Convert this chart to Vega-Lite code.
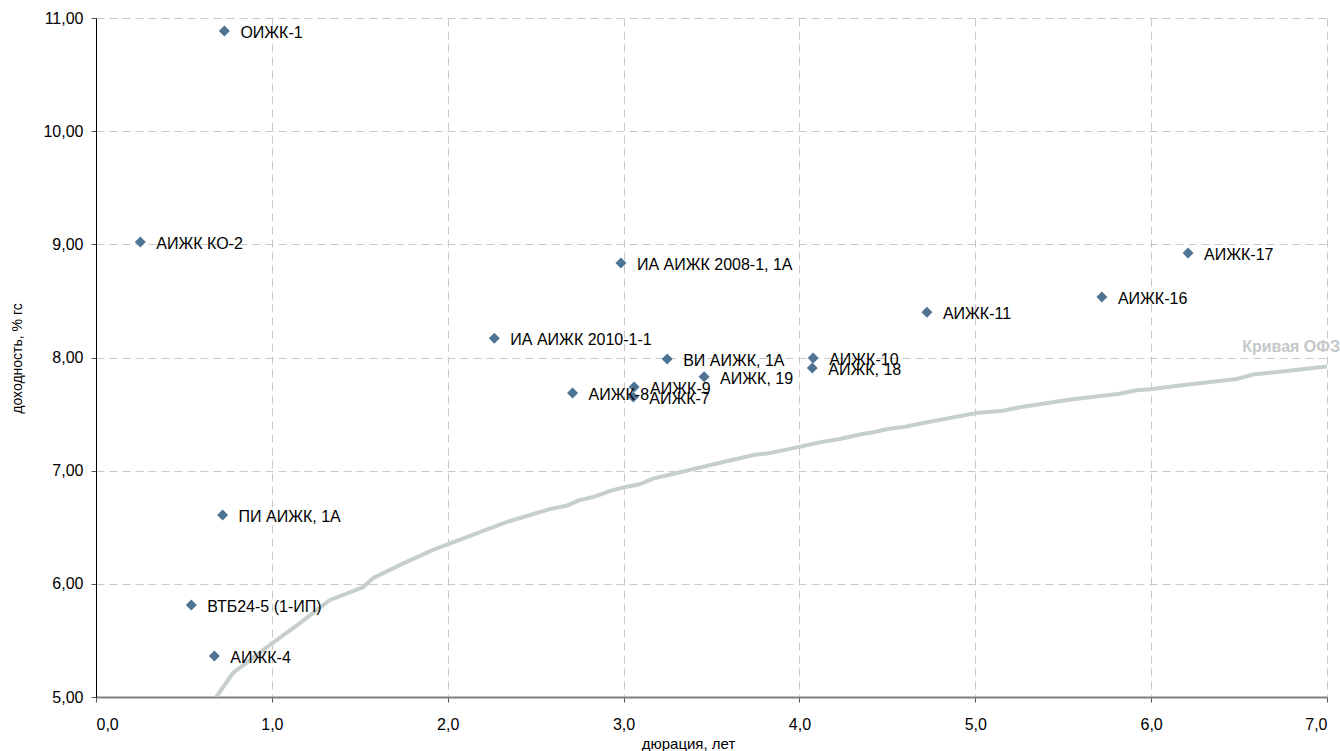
{
  "$schema": "https://vega.github.io/schema/vega-lite/v6.json",
  "width": 1231,
  "height": 679,
  "autosize": {"type": "none"},
  "padding": {"left": 96, "top": 18, "right": 13, "bottom": 54},
  "background": "white",
  "config": {
    "view": {"stroke": null},
    "font": "Liberation Sans"
  },
  "datasets": {
    "bonds": [
      {"name": "ОИЖК-1", "dur": 0.73, "yld": 10.885},
      {"name": "АИЖК КО-2", "dur": 0.252, "yld": 9.02},
      {"name": "ИА АИЖК 2008-1, 1А", "dur": 2.985, "yld": 8.835},
      {"name": "АИЖК-17", "dur": 6.21, "yld": 8.923},
      {"name": "АИЖК-16", "dur": 5.72, "yld": 8.535},
      {"name": "АИЖК-11", "dur": 4.725, "yld": 8.4},
      {"name": "ИА АИЖК 2010-1-1", "dur": 2.265, "yld": 8.17},
      {"name": "ВИ АИЖК, 1А", "dur": 3.248, "yld": 7.987},
      {"name": "АИЖК-10", "dur": 4.078, "yld": 7.996},
      {"name": "АИЖК, 18", "dur": 4.073, "yld": 7.907},
      {"name": "АИЖК, 19", "dur": 3.458, "yld": 7.83},
      {"name": "АИЖК-9", "dur": 3.06, "yld": 7.74},
      {"name": "АИЖК-8", "dur": 2.71, "yld": 7.686},
      {"name": "АИЖК-7", "dur": 3.055, "yld": 7.65},
      {"name": "ПИ АИЖК, 1А", "dur": 0.72, "yld": 6.608},
      {"name": "ВТБ24-5 (1-ИП)", "dur": 0.542, "yld": 5.813},
      {"name": "АИЖК-4", "dur": 0.673, "yld": 5.362}
    ],
    "curve": [
      {"dur": 0.684, "yld": 5.0},
      {"dur": 0.778, "yld": 5.21},
      {"dur": 0.997, "yld": 5.47},
      {"dur": 1.158, "yld": 5.65},
      {"dur": 1.328, "yld": 5.855},
      {"dur": 1.518, "yld": 5.97},
      {"dur": 1.575, "yld": 6.05},
      {"dur": 1.726, "yld": 6.165},
      {"dur": 1.916, "yld": 6.3},
      {"dur": 2.086, "yld": 6.4},
      {"dur": 2.333, "yld": 6.545},
      {"dur": 2.58, "yld": 6.66},
      {"dur": 2.675, "yld": 6.69},
      {"dur": 2.75, "yld": 6.74},
      {"dur": 2.836, "yld": 6.77},
      {"dur": 2.92, "yld": 6.82},
      {"dur": 2.993, "yld": 6.85},
      {"dur": 3.09, "yld": 6.88},
      {"dur": 3.167, "yld": 6.93},
      {"dur": 3.28, "yld": 6.97},
      {"dur": 3.414, "yld": 7.02},
      {"dur": 3.604, "yld": 7.09},
      {"dur": 3.746, "yld": 7.14},
      {"dur": 3.83, "yld": 7.155},
      {"dur": 4.0, "yld": 7.21},
      {"dur": 4.115, "yld": 7.25},
      {"dur": 4.23, "yld": 7.28},
      {"dur": 4.343, "yld": 7.32},
      {"dur": 4.42, "yld": 7.34},
      {"dur": 4.51, "yld": 7.37},
      {"dur": 4.59, "yld": 7.385},
      {"dur": 4.683, "yld": 7.415},
      {"dur": 4.836, "yld": 7.46},
      {"dur": 5.007, "yld": 7.51},
      {"dur": 5.158, "yld": 7.53},
      {"dur": 5.253, "yld": 7.56},
      {"dur": 5.405, "yld": 7.595},
      {"dur": 5.52, "yld": 7.625},
      {"dur": 5.82, "yld": 7.68},
      {"dur": 5.917, "yld": 7.71},
      {"dur": 5.993, "yld": 7.72},
      {"dur": 6.2, "yld": 7.76},
      {"dur": 6.486, "yld": 7.81},
      {"dur": 6.58, "yld": 7.85},
      {"dur": 6.77, "yld": 7.88},
      {"dur": 7.0, "yld": 7.92}
    ]
  },
  "encoding": {
    "x": {
      "field": "dur",
      "type": "quantitative",
      "scale": {"domain": [0, 7], "nice": false, "zero": false},
      "axis": {
        "title": "дюрация, лет",
        "values": [0, 1, 2, 3, 4, 5, 6, 7],
        "labelExpr": "replace(format(datum.value, '.1f'), '.', ',')",
        "labelFont": "Liberation Sans",
        "labelFontSize": 16,
        "labelColor": "#000000",
        "labelPadding": 14,
        "tickSize": 5,
        "tickColor": "#555555",
        "domainColor": "#808080",
        "domainWidth": 2,
        "grid": true,
        "gridColor": "#c8c8c8",
        "gridDash": [8, 5],
        "gridWidth": 1,
        "titleFont": "Liberation Sans",
        "titleFontSize": 15,
        "titleFontWeight": "normal",
        "titleColor": "#000000",
        "titleX": 592,
        "titleY": 46,
        "titleAlign": "center",
        "titleBaseline": "middle"
      }
    },
    "y": {
      "field": "yld",
      "type": "quantitative",
      "scale": {"domain": [5, 11], "nice": false, "zero": false},
      "axis": {
        "title": "доходность, % гс",
        "values": [5, 6, 7, 8, 9, 10, 11],
        "labelExpr": "replace(format(datum.value, '.2f'), '.', ',')",
        "labelFont": "Liberation Sans",
        "labelFontSize": 16,
        "labelColor": "#000000",
        "labelPadding": 8,
        "tickSize": 5,
        "tickColor": "#555555",
        "domainColor": "#000000",
        "domainWidth": 1,
        "grid": true,
        "gridColor": "#c8c8c8",
        "gridDash": [8, 5],
        "gridWidth": 1,
        "titleFont": "Liberation Sans",
        "titleFontSize": 14,
        "titleFontWeight": "normal",
        "titleColor": "#000000",
        "titleX": -79,
        "titleY": 340,
        "titleAngle": -90,
        "titleAlign": "center",
        "titleBaseline": "middle"
      }
    }
  },
  "layer": [
    {
      "data": {"name": "curve"},
      "mark": {"type": "line", "color": "#c6cfcb", "strokeWidth": 4, "clip": true},
      "encoding": {}
    },
    {
      "data": {"name": "curve"},
      "transform": [{"filter": "datum.dur == 7"}],
      "mark": {"type": "text", "text": "Кривая ОФЗ", "align": "right", "baseline": "middle", "dx": 13, "dy": -20, "fontSize": 16, "fontWeight": "bold", "color": "#c4c8c8", "font": "Liberation Sans"},
      "encoding": {}
    },
    {
      "data": {"name": "bonds"},
      "mark": {"type": "point", "shape": "diamond", "filled": true, "size": 120, "color": "#4e7393", "opacity": 1},
      "encoding": {}
    },
    {
      "data": {"name": "bonds"},
      "mark": {"type": "text", "align": "left", "baseline": "middle", "dx": 16, "dy": 2, "fontSize": 16, "color": "#000000", "font": "Liberation Sans"},
      "encoding": {"text": {"field": "name", "type": "nominal"}}
    }
  ]
}
